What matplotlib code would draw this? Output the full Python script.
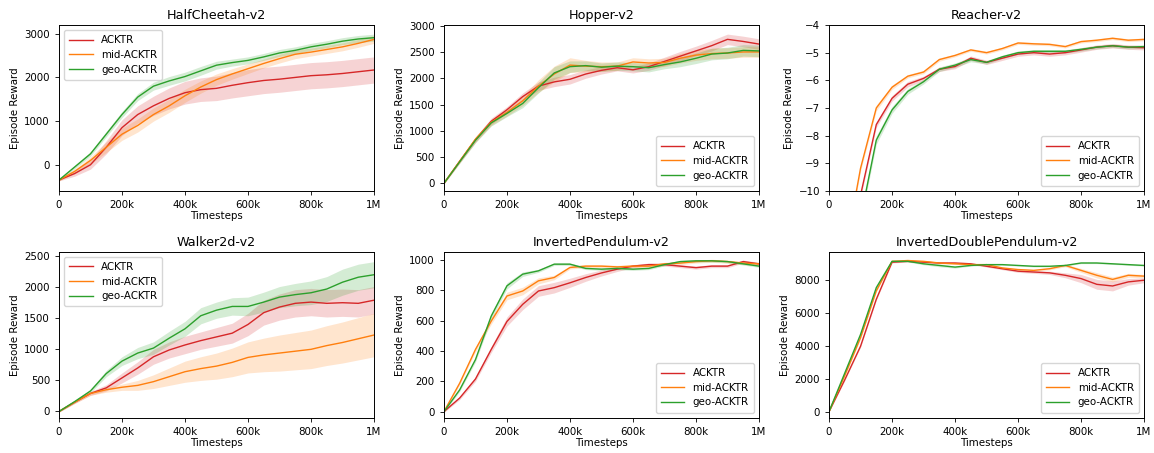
import matplotlib
matplotlib.use("Agg")
import matplotlib.pyplot as plt
import numpy as np

# timesteps, every 50k
steps = np.arange(0, 1000001, 50000)

# ---- HalfCheetah-v2
hc_acktr = [-350, -200, 0, 400, 850, 1150, 1350, 1520, 1650, 1720, 1750, 1820, 1880, 1930, 1960, 2000, 2040, 2060, 2090, 2130, 2170]
hc_acktr_sd = [20, 60, 100, 150, 180, 200, 220, 240, 260, 270, 280, 290, 300, 300, 300, 300, 300, 300, 300, 300, 300]
hc_mid = [-350, -150, 100, 400, 700, 900, 1150, 1350, 1580, 1780, 1950, 2080, 2200, 2320, 2430, 2530, 2580, 2640, 2700, 2780, 2870]
hc_mid_sd = [20, 50, 80, 120, 140, 150, 150, 150, 150, 140, 130, 120, 110, 100, 100, 100, 90, 90, 90, 90, 90]
hc_geo = [-350, -50, 250, 700, 1150, 1550, 1800, 1920, 2020, 2150, 2280, 2340, 2390, 2470, 2560, 2620, 2700, 2760, 2830, 2880, 2910]
hc_geo_sd = [20, 40, 50, 60, 70, 80, 90, 100, 100, 100, 90, 80, 80, 80, 80, 80, 80, 80, 80, 80, 80]

# ---- Hopper-v2
hop_acktr = [0, 420, 830, 1180, 1400, 1650, 1850, 1930, 1980, 2080, 2150, 2200, 2160, 2220, 2320, 2420, 2520, 2620, 2740, 2700, 2650]
hop_acktr_sd = [10, 30, 50, 60, 60, 70, 80, 90, 90, 80, 70, 60, 60, 70, 80, 90, 90, 100, 100, 100, 100]
hop_mid = [0, 420, 840, 1160, 1350, 1570, 1850, 2080, 2250, 2230, 2220, 2230, 2310, 2290, 2300, 2380, 2440, 2470, 2480, 2500, 2500]
hop_mid_sd = [10, 30, 50, 60, 70, 90, 120, 150, 140, 110, 90, 80, 80, 80, 80, 90, 100, 100, 100, 100, 100]
hop_geo = [0, 410, 820, 1150, 1330, 1520, 1820, 2100, 2220, 2240, 2210, 2230, 2220, 2200, 2260, 2310, 2380, 2460, 2480, 2530, 2520]
hop_geo_sd = [10, 30, 50, 60, 60, 80, 100, 120, 110, 90, 80, 80, 80, 80, 80, 90, 100, 110, 110, 110, 110]

# ---- Reacher-v2
rea_acktr = [-18, -14, -10.15, -7.6, -6.65, -6.14, -5.93, -5.6, -5.5, -5.2, -5.35, -5.2, -5.05, -5.0, -5.05, -5.0, -4.9, -4.8, -4.75, -4.8, -4.82]
rea_acktr_sd = [0.1, 0.1, 0.1, 0.1, 0.1, 0.1, 0.08, 0.08, 0.08, 0.08, 0.08, 0.08, 0.08, 0.08, 0.08, 0.08, 0.08, 0.08, 0.08, 0.08, 0.08]
rea_mid = [-16, -12.3, -9.18, -7.0, -6.25, -5.85, -5.7, -5.25, -5.1, -4.9, -5.0, -4.85, -4.65, -4.68, -4.7, -4.78, -4.6, -4.55, -4.48, -4.55, -4.52]
rea_mid_sd = [0.1, 0.1, 0.1, 0.1, 0.08, 0.06, 0.06, 0.06, 0.05, 0.05, 0.05, 0.05, 0.05, 0.05, 0.05, 0.05, 0.05, 0.05, 0.05, 0.05, 0.05]
rea_geo = [-20, -15, -11.0, -8.16, -7.07, -6.4, -6.05, -5.6, -5.45, -5.25, -5.35, -5.15, -5.0, -4.95, -4.95, -4.95, -4.88, -4.8, -4.75, -4.8, -4.78]
rea_geo_sd = [0.15, 0.15, 0.15, 0.15, 0.12, 0.1, 0.08, 0.08, 0.08, 0.08, 0.06, 0.06, 0.06, 0.06, 0.06, 0.06, 0.06, 0.06, 0.06, 0.06, 0.06]

# ---- Walker2d-v2
wal_acktr = [0, 150, 290, 380, 540, 700, 880, 990, 1070, 1140, 1200, 1260, 1400, 1590, 1680, 1740, 1760, 1740, 1750, 1740, 1790]
wal_acktr_sd = [10, 20, 30, 50, 80, 100, 120, 130, 140, 140, 150, 160, 180, 200, 210, 220, 220, 220, 220, 220, 220]
wal_mid = [0, 150, 290, 350, 390, 420, 480, 560, 640, 690, 730, 790, 870, 910, 940, 970, 1000, 1060, 1110, 1170, 1230]
wal_mid_sd = [10, 20, 30, 40, 50, 80, 110, 140, 170, 190, 210, 230, 250, 270, 290, 300, 310, 320, 330, 340, 350]
wal_geo = [0, 160, 330, 610, 810, 940, 1020, 1180, 1330, 1540, 1630, 1690, 1690, 1760, 1840, 1880, 1910, 1970, 2080, 2160, 2200]
wal_geo_sd = [10, 20, 30, 50, 70, 90, 100, 110, 120, 130, 130, 140, 150, 160, 170, 180, 190, 200, 210, 210, 210]

# ---- InvertedPendulum-v2
ip_acktr = [0, 90, 215, 410, 595, 708, 796, 818, 850, 885, 915, 940, 960, 970, 970, 960, 950, 960, 960, 990, 975]
ip_acktr_sd = [5, 10, 15, 20, 30, 35, 35, 35, 30, 25, 20, 15, 10, 10, 10, 10, 10, 10, 10, 10, 10]
ip_mid = [0, 188, 410, 597, 763, 796, 863, 885, 951, 960, 960, 955, 960, 960, 975, 980, 990, 995, 990, 980, 975]
ip_mid_sd = [5, 10, 15, 20, 25, 25, 20, 15, 10, 10, 10, 10, 10, 10, 10, 10, 10, 10, 10, 10, 10]
ip_geo = [0, 144, 343, 630, 830, 907, 929, 973, 973, 945, 940, 945, 940, 945, 970, 990, 995, 995, 990, 975, 960]
ip_geo_sd = [5, 10, 15, 20, 20, 15, 10, 8, 8, 8, 8, 8, 8, 8, 8, 8, 8, 8, 8, 8, 8]

# ---- InvertedDoublePendulum-v2
idp_acktr = [0, 1940, 3980, 6840, 9100, 9150, 9100, 9050, 9050, 9000, 8850, 8700, 8550, 8500, 8450, 8300, 8100, 7750, 7650, 7900, 8000]
idp_acktr_sd = [20, 40, 60, 60, 50, 40, 40, 40, 40, 40, 50, 60, 70, 80, 100, 150, 250, 300, 300, 200, 150]
idp_mid = [0, 2200, 4500, 7350, 9150, 9200, 9150, 9050, 9000, 8950, 8950, 8750, 8650, 8600, 8700, 8900, 8600, 8300, 8050, 8300, 8250]
idp_mid_sd = [20, 40, 60, 60, 50, 40, 40, 40, 40, 40, 40, 40, 50, 60, 70, 80, 120, 160, 150, 120, 100]
idp_geo = [0, 2350, 4700, 7550, 9150, 9150, 9000, 8900, 8800, 8900, 8950, 8950, 8900, 8850, 8850, 8900, 9050, 9050, 9000, 8950, 8900]
idp_geo_sd = [20, 40, 60, 60, 50, 40, 60, 80, 60, 40, 40, 40, 40, 40, 40, 40, 40, 40, 40, 40, 40]

labels = ["ACKTR", "mid-ACKTR", "geo-ACKTR"]
colors = ["#d62728", "#ff7f0e", "#2ca02c"]

panels = [
    ("HalfCheetah-v2", [hc_acktr, hc_mid, hc_geo], [hc_acktr_sd, hc_mid_sd, hc_geo_sd], (-600, 3200), [0, 1000, 2000, 3000], "upper left"),
    ("Hopper-v2", [hop_acktr, hop_mid, hop_geo], [hop_acktr_sd, hop_mid_sd, hop_geo_sd], (-146, 3013), [0, 500, 1000, 1500, 2000, 2500, 3000], "lower right"),
    ("Reacher-v2", [rea_acktr, rea_mid, rea_geo], [rea_acktr_sd, rea_mid_sd, rea_geo_sd], (-10, -4), [-10, -9, -8, -7, -6, -5, -4], "lower right"),
    ("Walker2d-v2", [wal_acktr, wal_mid, wal_geo], [wal_acktr_sd, wal_mid_sd, wal_geo_sd], (-100, 2570), [0, 500, 1000, 1500, 2000, 2500], "upper left"),
    ("InvertedPendulum-v2", [ip_acktr, ip_mid, ip_geo], [ip_acktr_sd, ip_mid_sd, ip_geo_sd], (-40, 1055), [0, 200, 400, 600, 800, 1000], "lower right"),
    ("InvertedDoublePendulum-v2", [idp_acktr, idp_mid, idp_geo], [idp_acktr_sd, idp_mid_sd, idp_geo_sd], (-370, 9735), [0, 2000, 4000, 6000, 8000], "lower right"),
]

fig = plt.figure(figsize=(11.54, 4.53), dpi=100)
lefts = [0.0511, 0.3847, 0.7184]
bottoms = [0.5784, 0.0779]
w, h = 0.273, 0.3664

for i, (title, means, sds, ylim, yticks, loc) in enumerate(panels):
    ax = fig.add_axes([lefts[i % 3], bottoms[i // 3], w, h])
    for m, s, lab, c in zip(means, sds, labels, colors):
        m = np.array(m, dtype=float)
        s = np.array(s, dtype=float)
        ax.fill_between(steps, m - s, m + s, color=c, alpha=0.2, linewidth=0)
        ax.plot(steps, m, color=c, lw=1.0, label=lab)
    ax.set_xlim(0, 1e6)
    ax.set_ylim(*ylim)
    ax.set_yticks(yticks)
    ax.set_xticks([0, 2e5, 4e5, 6e5, 8e5, 1e6])
    ax.set_xticklabels(["0", "200k", "400k", "600k", "800k", "1M"])
    ax.tick_params(labelsize=7.4, length=3, width=0.6)
    for sp in ax.spines.values():
        sp.set_linewidth(0.7)
    ax.set_title(title, fontsize=9.2, pad=4)
    ax.set_xlabel("Timesteps", fontsize=7.4, labelpad=1)
    ax.set_ylabel("Episode Reward", fontsize=7.4, labelpad=3)
    ax.legend(loc=loc, fontsize=7.4, handlelength=2.3, borderpad=0.5, labelspacing=0.45)

fig.savefig("out.png", dpi=100)
